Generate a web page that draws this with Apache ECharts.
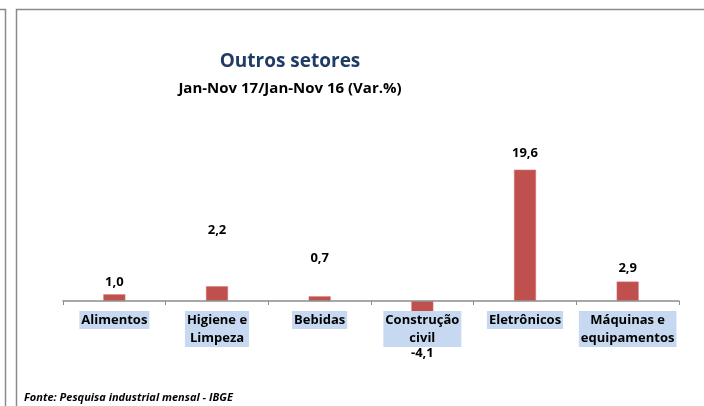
<!DOCTYPE html>
<html>
<head>
<meta charset="utf-8">
<script src="https://cdn.jsdelivr.net/npm/echarts@6/dist/echarts.min.js"></script>
<style>
  html, body { margin: 0; padding: 0; background: #fff; }
  #chart { width: 704px; height: 406px; }
</style>
</head>
<body>
<div id="chart"></div>
<script>
// dados
var categories = ['Alimentos', 'Higiene e\nLimpeza', 'Bebidas', 'Construção\ncivil', 'Eletrônicos', 'Máquinas e\nequipamentos'];
var values = [1.0, 2.2, 0.7, -4.1, 19.6, 2.9];
var valueLabels = ['1,0', '2,2', '0,7', '-4,1', '19,6', '2,9'];

var chart = echarts.init(document.getElementById('chart'));

// rótulos deslocados manualmente como no original
var labelOffsets = [0, -43, -26, 12, -4, -1];

var seriesData = values.map(function (v, i) {
  return {
    value: v,
    label: {
      position: v < 0 ? 'bottom' : 'top',
      offset: [0, labelOffsets[i]]
    }
  };
});

chart.setOption({
  backgroundColor: '#ffffff',
  animation: false,
  graphic: [
    // moldura
    { type: 'polyline', shape: { points: [[0, 9.5], [5.5, 9.5], [5.5, 406]] }, style: { stroke: '#8a8a8a', lineWidth: 1.5, fill: null } },
    { type: 'polyline', shape: { points: [[16.5, 406], [16.5, 9.5], [704, 9.5]] }, style: { stroke: '#8a8a8a', lineWidth: 1.5, fill: null } },
    {
      type: 'text', left: 24, top: 392,
      style: { text: 'Fonte: Pesquisa industrial mensal - IBGE', font: 'italic bold 11px "Open Sans"', fill: '#000' }
    }
  ],
  title: {
    text: 'Outros setores',
    subtext: 'Jan-Nov 17/Jan-Nov 16 (Var.%)',
    left: 285,
    top: 47,
    textAlign: 'center',
    itemGap: 10,
    textStyle: { fontFamily: 'Open Sans', fontWeight: 'bold', fontSize: 19, color: '#1f3c66' },
    subtextStyle: { fontFamily: 'Open Sans', fontWeight: 'bold', fontSize: 15, color: '#000' }
  },
  grid: { left: 63, right: 25, top: 167, height: 201, containLabel: false, outerBoundsMode: 'none' },
  xAxis: {
    type: 'category',
    data: categories,
    z: 10,
    offset: -67,
    axisLine: { onZero: false, lineStyle: { color: '#8c8c8c', width: 1.5 } },
    axisTick: { show: true, length: 4, lineStyle: { color: '#8c8c8c' } },
    axisLabel: {
      interval: 0,
      margin: 10,
      fontFamily: 'Open Sans',
      fontWeight: 'bold',
      fontSize: 13,
      lineHeight: 18,
      color: '#000',
      backgroundColor: '#c6d9f1',
      padding: [0, 2]
    }
  },
  yAxis: {
    type: 'value',
    min: -10,
    max: 20,
    show: false,
    splitLine: { show: false }
  },
  series: [{
    type: 'bar',
    data: seriesData,
    barWidth: 22,
    itemStyle: { color: '#c0504d', borderColor: '#d27a77', borderWidth: 0.5 },
    label: {
      show: true,
      distance: 6,
      fontFamily: 'Open Sans',
      fontWeight: 'bold',
      fontSize: 13,
      color: '#000',
      formatter: function (p) { return valueLabels[p.dataIndex]; }
    }
  }]
});
</script>
</body>
</html>
